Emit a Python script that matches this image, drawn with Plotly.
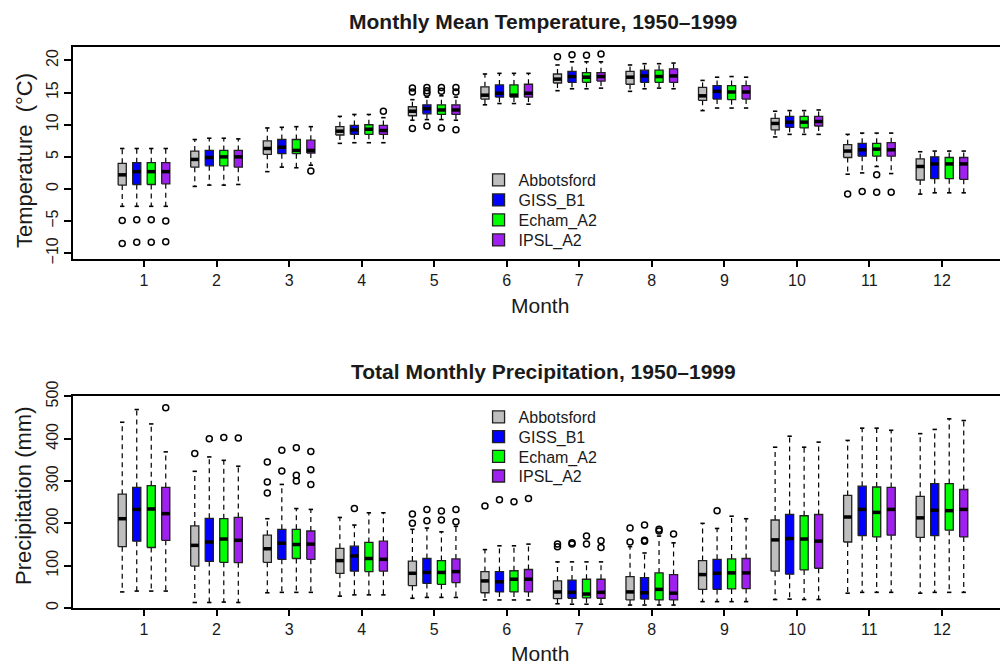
import plotly.graph_objects as go

# ---------------- data ----------------
months = list(range(1, 13))
month_labels = [str(m) for m in months]
series_names = ["Abbotsford", "GISS_B1", "Echam_A2", "IPSL_A2"]
series_colors = ["#BEBEBE", "#0000FF", "#00FF00", "#A020F0"]

# Monthly mean temperature (deg C): whisker low, Q1, median, Q3, whisker high
temp_abb_lo = [-2.7, 0.4, 2.7, 7.1, 10.7, 13.1, 15.3, 15.2, 12.2, 8.1, 2.3, -0.8]
temp_abb_q1 = [0.6, 3.4, 5.4, 8.4, 11.4, 14.0, 16.5, 16.3, 13.8, 9.2, 4.9, 1.4]
temp_abb_md = [2.2, 4.6, 6.3, 9.0, 12.1, 14.6, 17.1, 17.4, 14.5, 10.2, 5.9, 3.5]
temp_abb_q3 = [4.0, 5.9, 7.5, 9.7, 12.8, 15.9, 17.9, 18.3, 15.8, 11.0, 6.9, 4.7]
temp_abb_hi = [6.3, 7.7, 9.5, 11.3, 13.9, 17.9, 19.3, 19.3, 16.9, 12.1, 8.5, 5.8]
temp_abb_out_m = [1, 1, 5, 5, 5, 7, 11]
temp_abb_out_v = [-4.9, -8.5, 15.1, 15.7, 9.4, 20.6, -0.8]

temp_giss_lo = [-2.7, 0.6, 3.4, 7.2, 10.8, 13.3, 15.6, 15.6, 12.6, 8.5, 2.5, -0.6]
temp_giss_q1 = [0.7, 3.6, 5.5, 8.5, 11.7, 14.3, 16.6, 16.6, 14.0, 9.6, 5.1, 1.6]
temp_giss_md = [2.7, 4.9, 6.5, 9.2, 12.5, 14.9, 17.5, 17.6, 15.2, 10.4, 6.1, 3.9]
temp_giss_q3 = [4.1, 6.0, 7.7, 9.9, 13.1, 16.2, 18.3, 18.5, 16.1, 11.3, 7.1, 5.0]
temp_giss_hi = [6.3, 7.9, 9.6, 11.6, 14.3, 18.0, 19.8, 19.5, 17.4, 12.2, 8.7, 5.9]
temp_giss_out_m = [1, 1, 5, 5, 5, 5, 7, 11]
temp_giss_out_v = [-4.8, -8.3, 15.8, 15.3, 14.9, 9.8, 20.9, -0.4]

temp_echam_lo = [-2.7, 0.6, 3.3, 7.2, 10.8, 13.3, 15.6, 15.7, 12.6, 8.5, 3.5, -0.6]
temp_echam_q1 = [0.7, 3.6, 5.5, 8.5, 11.6, 14.3, 16.6, 16.6, 13.9, 9.5, 5.1, 1.6]
temp_echam_md = [2.7, 5.0, 6.0, 9.3, 12.3, 14.6, 17.4, 17.5, 15.1, 10.4, 6.2, 3.9]
temp_echam_q3 = [4.1, 6.0, 7.7, 10.0, 13.1, 16.2, 18.1, 18.5, 16.1, 11.3, 7.1, 4.9]
temp_echam_hi = [6.3, 7.9, 9.7, 11.6, 14.5, 18.0, 19.8, 19.5, 17.5, 12.2, 8.7, 5.9]
temp_echam_out_m = [1, 1, 5, 5, 5, 7, 11, 11]
temp_echam_out_v = [-4.8, -8.3, 15.8, 15.2, 9.5, 20.8, 2.2, -0.5]

temp_ipsl_lo = [-2.7, 0.7, 3.7, 7.2, 10.7, 13.2, 15.7, 15.6, 12.6, 8.5, 2.4, -0.6]
temp_ipsl_q1 = [0.8, 3.4, 5.6, 8.5, 11.6, 14.3, 16.8, 16.6, 14.0, 9.8, 5.1, 1.5]
temp_ipsl_md = [2.7, 5.0, 6.0, 9.1, 12.3, 14.9, 17.5, 17.6, 15.1, 10.5, 6.1, 3.9]
temp_ipsl_q3 = [4.1, 6.0, 7.6, 9.9, 13.1, 16.3, 18.1, 18.7, 16.1, 11.3, 7.2, 4.9]
temp_ipsl_hi = [6.3, 7.8, 9.7, 11.1, 14.3, 18.0, 19.8, 19.6, 17.4, 12.3, 8.7, 5.9]
temp_ipsl_out_m = [1, 1, 3, 4, 5, 5, 5, 7, 11]
temp_ipsl_out_v = [-5.0, -8.2, 2.8, 12.1, 15.8, 15.1, 9.2, 21.0, -0.5]

# Total monthly precipitation (mm)
prec_abb_lo = [38, 13, 36, 28, 23, 19, 10, 7, 15, 20, 35, 35]
prec_abb_q1 = [145, 99, 108, 82, 53, 36, 22, 19, 44, 87, 156, 167]
prec_abb_md = [211, 148, 140, 112, 82, 64, 38, 38, 79, 161, 215, 213]
prec_abb_q3 = [269, 194, 172, 141, 111, 86, 64, 74, 112, 208, 266, 264]
prec_abb_hi = [439, 323, 211, 214, 186, 138, 109, 145, 200, 380, 396, 412]
prec_abb_out_m = [2, 3, 3, 3, 5, 5, 6, 7, 7, 8, 8]
prec_abb_out_v = [365, 345, 298, 272, 222, 200, 241, 151, 145, 189, 156]

prec_giss_lo = [40, 13, 37, 31, 25, 19, 9, 7, 15, 21, 37, 37]
prec_giss_q1 = [158, 110, 115, 87, 58, 38, 23, 21, 44, 80, 171, 171]
prec_giss_md = [233, 156, 153, 123, 84, 62, 37, 36, 82, 164, 233, 231]
prec_giss_q3 = [285, 212, 186, 146, 117, 86, 66, 72, 115, 221, 288, 294]
prec_giss_hi = [469, 357, 292, 196, 189, 147, 109, 130, 188, 406, 425, 422]
prec_giss_out_m = [2, 3, 3, 4, 5, 5, 6, 7, 7, 8, 8, 8, 9]
prec_giss_out_v = [400, 373, 324, 235, 233, 206, 256, 154, 151, 196, 160, 158, 230]

prec_echam_lo = [40, 14, 37, 31, 25, 19, 9, 7, 15, 20, 37, 37]
prec_echam_q1 = [143, 108, 117, 86, 56, 38, 24, 19, 45, 90, 168, 184]
prec_echam_md = [234, 163, 150, 117, 84, 68, 33, 44, 83, 163, 226, 230]
prec_echam_q3 = [289, 211, 186, 155, 112, 88, 68, 83, 116, 218, 286, 294]
prec_echam_hi = [435, 349, 235, 225, 180, 147, 109, 170, 217, 380, 425, 447]
prec_echam_out_m = [2, 3, 3, 3, 5, 5, 6, 7, 7, 8, 8]
prec_echam_out_v = [403, 379, 314, 300, 229, 208, 251, 170, 151, 186, 182]

prec_ipsl_lo = [40, 13, 37, 31, 25, 19, 9, 7, 15, 20, 37, 37]
prec_ipsl_q1 = [160, 107, 115, 87, 60, 38, 23, 19, 46, 94, 172, 168]
prec_ipsl_md = [223, 160, 151, 115, 86, 68, 37, 35, 83, 158, 233, 233]
prec_ipsl_q3 = [285, 214, 182, 158, 116, 91, 68, 79, 117, 221, 285, 280]
prec_ipsl_hi = [369, 335, 233, 225, 193, 151, 109, 154, 211, 392, 420, 443]
prec_ipsl_out_m = [1, 2, 3, 3, 3, 5, 5, 6, 7, 7, 8]
prec_ipsl_out_v = [473, 402, 370, 327, 292, 233, 204, 259, 159, 143, 175]

temp_stats = [
    (temp_abb_lo, temp_abb_q1, temp_abb_md, temp_abb_q3, temp_abb_hi, temp_abb_out_m, temp_abb_out_v),
    (temp_giss_lo, temp_giss_q1, temp_giss_md, temp_giss_q3, temp_giss_hi, temp_giss_out_m, temp_giss_out_v),
    (temp_echam_lo, temp_echam_q1, temp_echam_md, temp_echam_q3, temp_echam_hi, temp_echam_out_m, temp_echam_out_v),
    (temp_ipsl_lo, temp_ipsl_q1, temp_ipsl_md, temp_ipsl_q3, temp_ipsl_hi, temp_ipsl_out_m, temp_ipsl_out_v),
]
prec_stats = [
    (prec_abb_lo, prec_abb_q1, prec_abb_md, prec_abb_q3, prec_abb_hi, prec_abb_out_m, prec_abb_out_v),
    (prec_giss_lo, prec_giss_q1, prec_giss_md, prec_giss_q3, prec_giss_hi, prec_giss_out_m, prec_giss_out_v),
    (prec_echam_lo, prec_echam_q1, prec_echam_md, prec_echam_q3, prec_echam_hi, prec_echam_out_m, prec_echam_out_v),
    (prec_ipsl_lo, prec_ipsl_q1, prec_ipsl_md, prec_ipsl_q3, prec_ipsl_hi, prec_ipsl_out_m, prec_ipsl_out_v),
]

# ---------------- style ----------------
FONT = "Liberation Sans, Arial, Helvetica, sans-serif"
TXT = "#1a1a1a"
offsets = [-0.3, -0.1, 0.1, 0.3]
HALF_W = 0.056
CAP_W = 0.03

fig = go.Figure()


def add_panel(stats, xa, ya):
    wx, wy, cx, cy, mx, my, ox, oy = [], [], [], [], [], [], [], []
    boxes = []
    for i, (lo, q1, md, q3, hi, om, ov) in enumerate(stats):
        bx, by = [], []
        for k, m in enumerate(months):
            c = m + offsets[i]
            x0, x1 = c - HALF_W, c + HALF_W
            bx += [x0, x1, x1, x0, x0, None]
            by += [q1[k], q1[k], q3[k], q3[k], q1[k], None]
            wx += [c, c, None, c, c, None]
            wy += [q3[k], hi[k], None, q1[k], lo[k], None]
            cx += [c - CAP_W, c + CAP_W, None, c - CAP_W, c + CAP_W, None]
            cy += [hi[k], hi[k], None, lo[k], lo[k], None]
            mx += [x0, x1, None]
            my += [md[k], md[k], None]
        for m, v in zip(om, ov):
            ox.append(m + offsets[i])
            oy.append(v)
        boxes.append((bx, by, series_colors[i]))
    fig.add_trace(go.Scatter(x=wx, y=wy, mode="lines", xaxis=xa, yaxis=ya,
                             line=dict(color="black", width=1.2, dash="5px,4px"),
                             showlegend=False, hoverinfo="skip"))
    for bx, by, col in boxes:
        fig.add_trace(go.Scatter(x=bx, y=by, mode="lines", fill="toself", fillcolor=col,
                                 xaxis=xa, yaxis=ya,
                                 line=dict(color="#202020", width=1.3),
                                 showlegend=False, hoverinfo="skip"))
    fig.add_trace(go.Scatter(x=cx, y=cy, mode="lines", xaxis=xa, yaxis=ya,
                             line=dict(color="black", width=1.6),
                             showlegend=False, hoverinfo="skip"))
    fig.add_trace(go.Scatter(x=mx, y=my, mode="lines", xaxis=xa, yaxis=ya,
                             line=dict(color="black", width=3.5),
                             showlegend=False, hoverinfo="skip"))
    fig.add_trace(go.Scatter(x=ox, y=oy, mode="markers", xaxis=xa, yaxis=ya,
                             marker=dict(symbol="circle-open", size=6, color="black",
                                         line=dict(width=1.5, color="black")),
                             showlegend=False, hoverinfo="skip"))


add_panel(temp_stats, "x", "y")
add_panel(prec_stats, "x2", "y2")

PW = 927.0
PH = 561.0


def px_x(p):
    return (p - 73) / PW


def px_y(p):
    return (608 - p) / PH


# legends: one legend per entry so the row spacing can match the reference
legend_layout = {}
panels = [("x", "y", 180.0, 20.0), ("x2", "y2", 417.0, 19.7)]
n = 0
for xa, ya, y0, dy in panels:
    for k, (name, col) in enumerate(zip(series_names, series_colors)):
        n += 1
        lname = "legend" if n == 1 else "legend%d" % n
        fig.add_trace(go.Scatter(x=[None], y=[None], mode="markers", name=name,
                                 xaxis=xa, yaxis=ya, legend=lname,
                                 marker=dict(symbol="square", size=12, color=col,
                                             line=dict(color="#202020", width=1.3))))
        legend_layout[lname] = dict(x=0.4375, y=px_y(y0 + dy * k), xanchor="left",
                                    yanchor="middle", bgcolor="rgba(0,0,0,0)",
                                    font=dict(family=FONT, size=16, color=TXT),
                                    itemclick=False, itemdoubleclick=False)

XR = [0.0214, 12.8]
axis_common = dict(showgrid=False, zeroline=False, showline=True, linecolor="black",
                   linewidth=2, ticks="outside", tickcolor="black", tickwidth=1.5,
                   tickfont=dict(family=FONT, size=16, color=TXT))

fig.update_layout(
    width=1000, height=664,
    margin=dict(l=73, r=0, t=47, b=56),
    paper_bgcolor="white", plot_bgcolor="white",
    font=dict(family=FONT, color=TXT),
    xaxis=dict(range=XR, domain=[0, 1], anchor="y", mirror=True, ticklen=6,
               tickvals=months, ticktext=month_labels, **axis_common),
    yaxis=dict(range=[-10.9, 22.1], domain=[0.6221, 1.0], anchor="x", ticklen=7,
               tickvals=[-10, -5, 0, 5, 10, 15, 20], tickangle=-90, **axis_common),
    xaxis2=dict(range=XR, domain=[0, 1], anchor="y2", mirror=True, ticklen=6,
                tickvals=months, ticktext=month_labels, **axis_common),
    yaxis2=dict(range=[0, 501], domain=[0, 0.3779], anchor="x2", ticklen=7,
                tickvals=[0, 100, 200, 300, 400, 500], tickangle=-90, **axis_common),
    showlegend=True,
    **legend_layout,
)

annots = [
    dict(text="<b>Monthly Mean Temperature, 1950\u20131999</b>", x=px_x(543), y=px_y(22), size=21, angle=0),
    dict(text="<b>Total Monthly Precipitation, 1950\u20131999</b>", x=px_x(543), y=px_y(371), size=21, angle=0),
    dict(text="Month", x=px_x(540), y=px_y(305), size=21, angle=0),
    dict(text="Month", x=px_x(540), y=px_y(653), size=21, angle=0),
    dict(text="Temperature  (\u00b0C)", x=px_x(24), y=px_y(161), size=22, angle=-90),
    dict(text="Precipitation (mm)", x=px_x(24), y=px_y(496), size=22, angle=-90),
]
for a in annots:
    fig.add_annotation(text=a["text"], x=a["x"], y=a["y"], xref="paper", yref="paper",
                       xanchor="center", yanchor="middle", showarrow=False,
                       textangle=a["angle"],
                       font=dict(family=FONT, size=a["size"], color=TXT))

fig.write_html("out.html")
